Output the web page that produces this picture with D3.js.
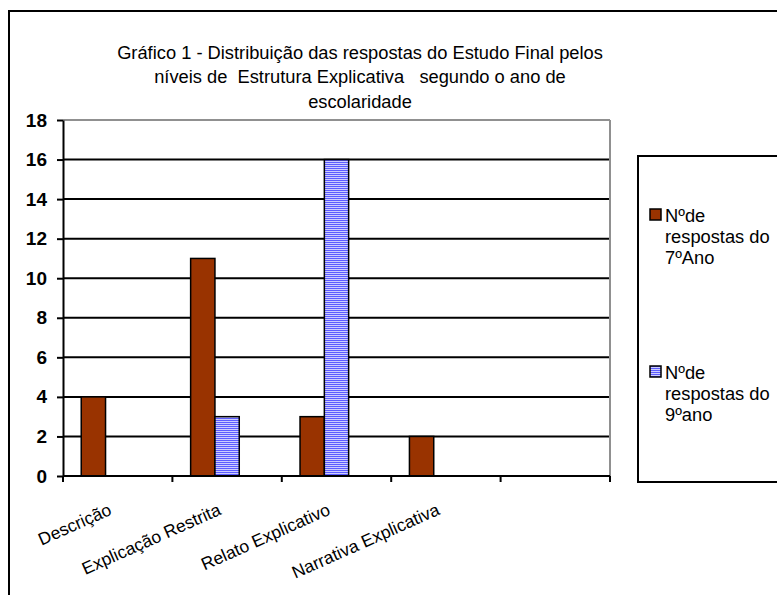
<!DOCTYPE html>
<html><head><meta charset="utf-8">
<script src="https://cdn.jsdelivr.net/npm/d3@7"></script>
<style>body{margin:0;background:#fff}svg{display:block}text{font-family:Arial,"Liberation Sans",sans-serif}</style>
</head><body>
<svg id="c" width="777" height="595"></svg>
<script>
const titleLines = ["Gráfico 1 - Distribuição das respostas do Estudo Final pelos",
  "níveis de  Estrutura Explicativa   segundo o ano de", "escolaridade"];
const categories = ["Descrição","Explicação Restrita","Relato Explicativo","Narrativa Explicativa",""];
const series = ["7", "9"];
const values7 = [4, 11, 3, 2, null];
const values9 = [null, 3, 16, null, null];
const legendLabels = [["Nºde","respostas do","7ºAno"],["Nºde","respostas do","9ºano"]];
const yTicks = [0,2,4,6,8,10,12,14,16,18];

const svg = d3.select("#c");
const defs = svg.append("defs");
const pat = defs.append("pattern").attr("id","stripe").attr("patternUnits","userSpaceOnUse")
  .attr("width",4).attr("height",2);
pat.append("rect").attr("width",4).attr("height",2).attr("fill","#ccccff");
pat.append("rect").attr("width",4).attr("height",1).attr("fill","#5c5cff");

// outer border
svg.append("rect").attr("x",9).attr("y",11).attr("width",800).attr("height",620)
  .attr("fill","none").attr("stroke","#000").attr("stroke-width",2);

const L=63, R=610, T=120, B=476;
const x = d3.scaleBand().domain(categories).range([L,R]);
const x1 = d3.scaleBand().domain([...series,"_"]).range([0,x.bandwidth()]).paddingOuter(0.75);
const y = d3.scaleLinear().domain([0,18]).range([B,T]);

// title
const tg = svg.append("g");
titleLines.forEach((t,i)=>{
  tg.append("text").attr("x",360).attr("y",59+i*24.3).attr("text-anchor","middle")
    .attr("font-size",18.3).attr("fill","#000").style("white-space","pre").text(t);
});

// gridlines
svg.append("g").selectAll("line").data(yTicks.filter(d=>d>0)).join("line")
  .attr("x1",L).attr("x2",R).attr("y1",d=>y(d)).attr("y2",d=>y(d))
  .attr("stroke",d=>d===18?"#909090":"#000").attr("stroke-width",2);
// right border
svg.append("line").attr("x1",R).attr("x2",R).attr("y1",T).attr("y2",B)
  .attr("stroke","#909090").attr("stroke-width",2);

// bars
const data = [];
categories.forEach((c,i)=>{
  if(values7[i]!=null) data.push({c, s:"7", v:values7[i]});
  if(values9[i]!=null) data.push({c, s:"9", v:values9[i]});
});
svg.append("g").selectAll("rect").data(data).join("rect")
  .attr("x",d=>x(d.c)+x1(d.s)).attr("width",x1.bandwidth())
  .attr("y",d=>y(d.v)).attr("height",d=>B-y(d.v))
  .attr("fill",d=>d.s==="7"?"#993300":"url(#stripe)")
  .attr("stroke","#000").attr("stroke-width",1.5);

// y axis
const ya = svg.append("g").attr("transform",`translate(${L},0)`)
  .call(d3.axisLeft(y).tickValues(yTicks).tickSize(6).tickSizeOuter(0).tickPadding(10));
ya.select(".domain").attr("stroke","#000").attr("stroke-width",2);
ya.selectAll(".tick line").attr("stroke","#000").attr("stroke-width",2);
ya.selectAll(".tick text").attr("font-size",19).attr("font-weight","bold").attr("fill","#000")
  .attr("font-family","Arial, 'Liberation Sans', sans-serif");

// x axis
const xa = svg.append("g");
xa.append("line").attr("x1",L).attr("x2",R).attr("y1",B).attr("y2",B).attr("stroke","#000").attr("stroke-width",2);
const bounds = categories.map(c=>x(c)).concat([R]);
xa.selectAll("line.t").data(bounds).join("line").attr("class","t")
  .attr("x1",d=>d).attr("x2",d=>d).attr("y1",B).attr("y2",B+6).attr("stroke","#000").attr("stroke-width",2);
xa.selectAll("text").data(categories.filter(c=>c)).join("text")
  .attr("transform",d=>`translate(${x(d)+x.bandwidth()/2-5},${B+38}) rotate(-24)`)
  .attr("text-anchor","end").attr("font-size",17.5).attr("fill","#000").text(d=>d);

// legend
svg.append("rect").attr("x",638).attr("y",156).attr("width",200).attr("height",326)
  .attr("fill","none").attr("stroke","#000").attr("stroke-width",2);
const lg = svg.append("g");
legendLabels.forEach((lines,i)=>{
  const y0 = 209 + i*157;
  lg.append("rect").attr("x",650).attr("y",y0).attr("width",11).attr("height",11)
    .attr("fill",i===0?"#993300":"url(#stripe)").attr("stroke","#000").attr("stroke-width",1.5);
  lines.forEach((t,j)=>{
    lg.append("text").attr("x",665).attr("y",y0+12.5+j*21.3).attr("font-size",18.3).attr("fill","#000").text(t);
  });
});
</script>
</body></html>
